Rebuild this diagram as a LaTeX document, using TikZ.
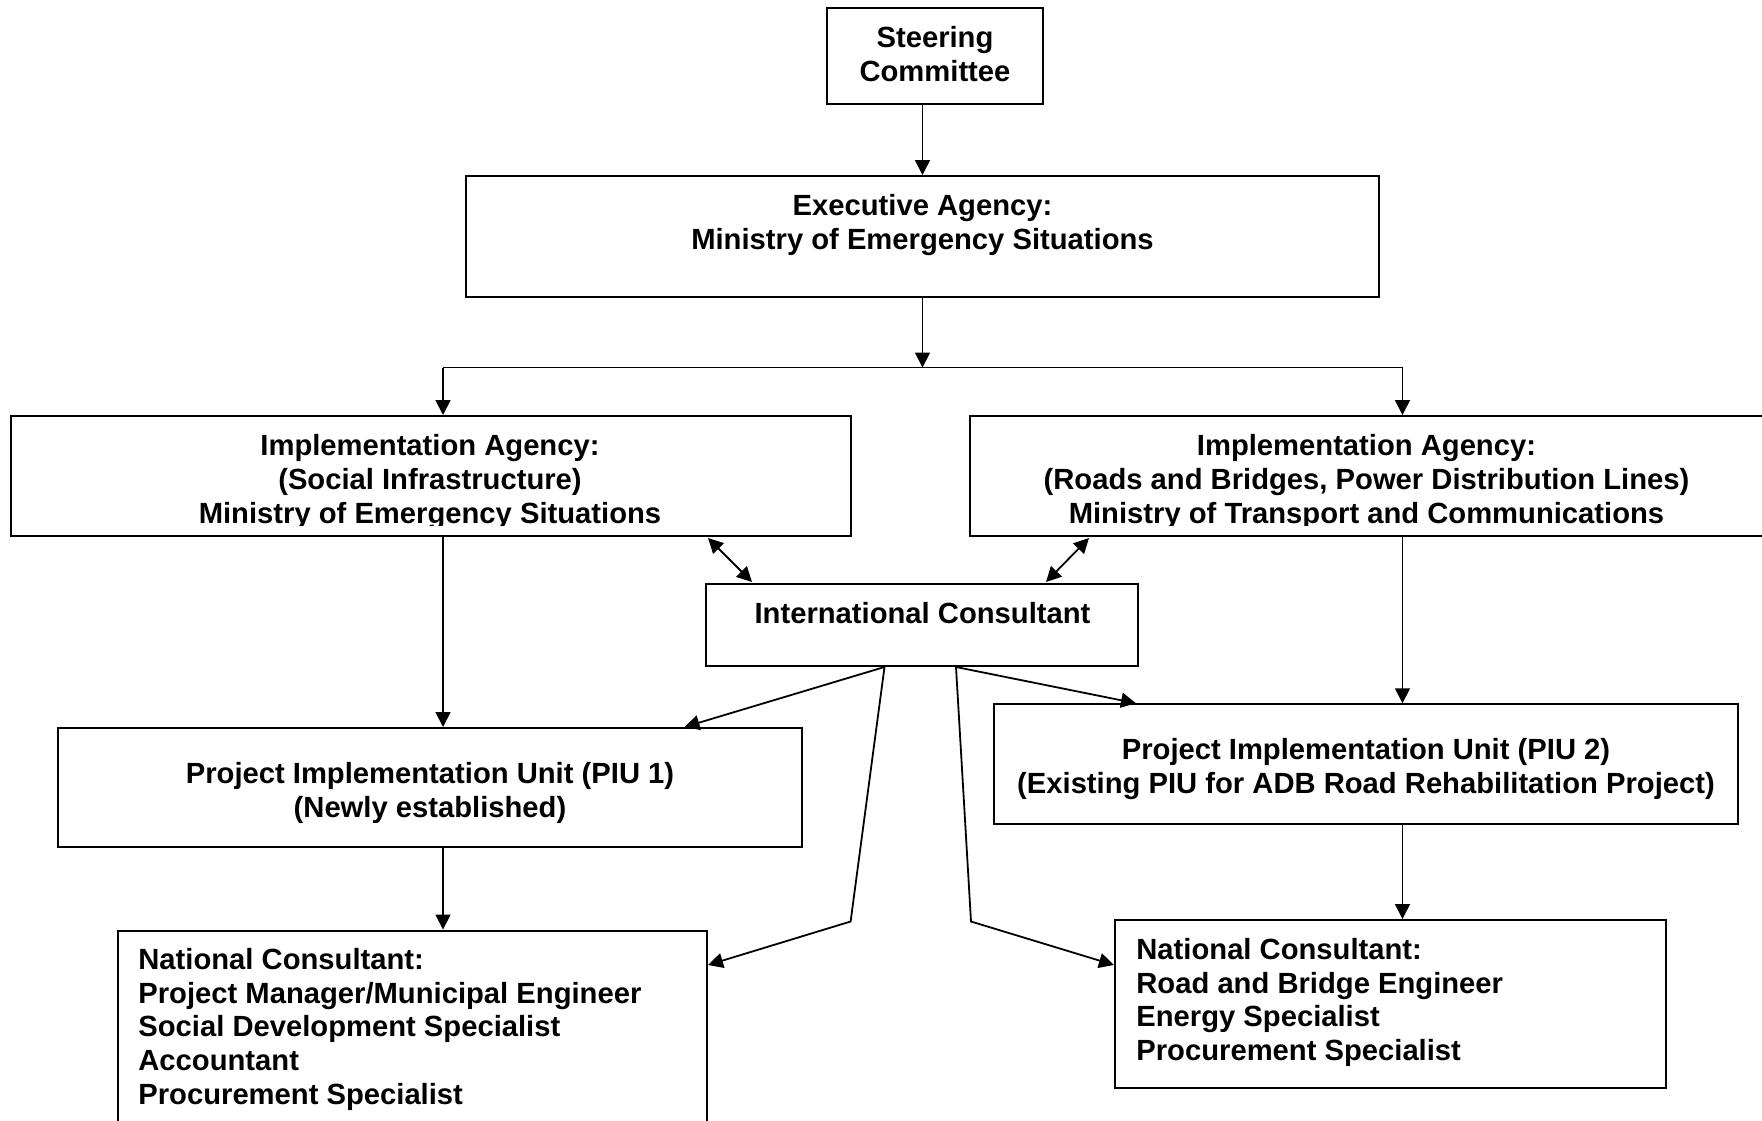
\documentclass[tikz,border=0pt]{standalone}
\usepackage{fontspec}
\setmainfont{Liberation Sans}
\usetikzlibrary{arrows.meta}
\usetikzlibrary{calc}

\begin{document}
\begin{tikzpicture}[x=0.5pt, y=-0.5pt,
    box/.style={draw, line width=1pt, inner sep=0pt},
    txt/.style={inner sep=0pt, font=\bfseries\fontsize{14.6}{16.85}\selectfont},
    arr/.style={line width=0.9pt, -{Triangle[length=7.5pt, width=7.5pt]}},
    biarr/.style={line width=0.9pt, {Triangle[length=7.5pt, width=7.5pt]}-{Triangle[length=7.5pt, width=7.5pt]}},
    link/.style={line width=0.9pt}]
    \useasboundingbox (0, 0) rectangle (1762, 1120);
    % boxes
    \node[box, minimum width=108pt, minimum height=48.25pt] (sc) at (935, 56) {};
    \node[box, minimum width=456.5pt, minimum height=60.5pt] (ea) at (922.5, 236.5) {};
    \node[box, minimum width=420pt, minimum height=60pt] (iaL) at (431, 476) {};
    \node[box, minimum width=397.5pt, minimum height=60pt] (iaR) at (1367.5, 476) {};
    \node[box, minimum width=216pt, minimum height=41pt] (ic) at (922, 625) {};
    \node[box, minimum width=372pt, minimum height=59.5pt] (piuA) at (430, 787.5) {};
    \node[box, minimum width=372pt, minimum height=59.75pt] (piuB) at (1366, 764) {};
    \node[box, minimum width=294.5pt, minimum height=104.5pt] (ncA) at (412.5, 1035) {};
    \node[box, minimum width=275.5pt, minimum height=84pt] (ncB) at (1390.5, 1004) {};
    % texts
    \node[txt, align=center] (scText) at (935, 54) {Steering\\Committee};
    \node[txt, align=center] (eaText) at (922.5, 225) {Executive Agency:\\Ministry of Emergency Situations};
    \begin{scope}
        \clip (iaL.north west) rectangle ($(iaL.south east)+(0,-12)$);
        \node[txt, align=center] (iaLText) at (430, 482)
            {Implementation Agency:\\(Social Infrastructure)\\Ministry of Emergency Situations};
    \end{scope}
    \begin{scope}
        \clip (iaR.north west) rectangle ($(iaR.south east)+(0,-12)$);
        \node[txt, align=center] (iaRText) at (1366.5, 482)
            {Implementation Agency:\\(Roads and Bridges, Power Distribution Lines)\\Ministry of Transport and Communications};
    \end{scope}
    \node[txt] (icText) at (922.5, 613) {International Consultant};
    \node[txt, align=center] (piuAText) at (430, 793)
        {Project Implementation Unit (PIU 1)\\(Newly established)};
    \node[txt, align=center] (piuBText) at (1366, 769)
        {Project Implementation Unit (PIU 2)\\(Existing PIU for ADB Road Rehabilitation Project)};
    \node[txt, align=left, anchor=north west] (ncAText) at (138, 948)
        {National Consultant:\\Project Manager/Municipal Engineer\\Social Development Specialist\\Accountant\\Procurement Specialist};
    \node[txt, align=left, anchor=north west] (ncBText) at (1136, 938)
        {National Consultant:\\Road and Bridge Engineer\\Energy Specialist\\Procurement Specialist};
    % bus
    \coordinate (busL) at (443, 367.5);
    \coordinate (busR) at (1402.5, 367.5);
    \draw[arr] (ea.north |- sc.south) -- (ea.north);
    \draw[arr] (ea.south) -- (ea.south |- busL);
    \draw[link] (busL) -- (busR);
    \draw[arr] (busL) -- (busL |- iaL.north);
    \draw[arr] (busR) -- (busR |- iaR.north);
    \draw[arr] (iaL.south -| busL) -- (piuA.north -| busL);
    \draw[arr] (piuA.south -| busL) -- (ncA.north -| busL);
    \draw[arr] (iaR.south -| busR) -- (piuB.north -| busR);
    \draw[arr] (piuB.south -| busR) -- (ncB.north -| busR);
    % consultant links
    \draw[biarr] ($(iaL.south)+(277,1)$) -- ($(ic.north west)+(47,-1)$);
    \draw[biarr] ($(iaR.south west)+(120,1)$) -- ($(ic.north east)+(-93,-1)$);
    \coordinate (icA) at ($(ic.south west)+(179.5,0)$);
    \coordinate (icB) at ($(ic.south west)+(251,0)$);
    \draw[arr] (icA) -- ($(piuA.north west)+(627.5,0)$);
    \draw[arr] (icA) -- (850.6, 921.5) -- ($(ncA.north east)+(0,35.5)$);
    \draw[arr] (icB) -- ($(piuB.north west)+(143,0)$);
    \draw[arr] (icB) -- (971, 921.5) -- ($(ncB.north west)+(0,46)$);
\end{tikzpicture}
\end{document}
